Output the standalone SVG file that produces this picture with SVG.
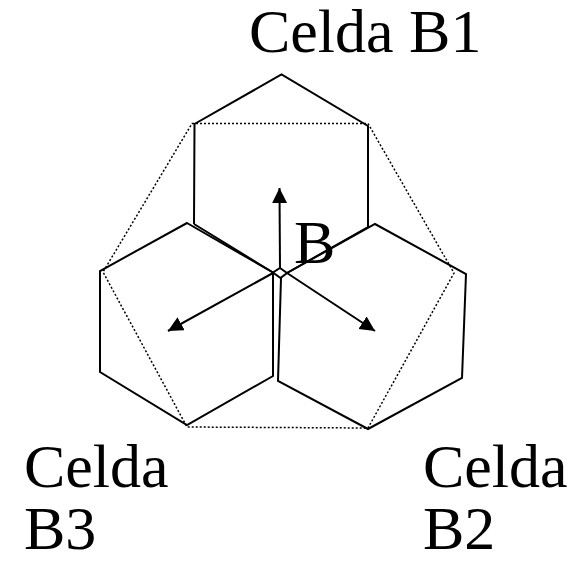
<svg xmlns="http://www.w3.org/2000/svg" width="582" height="566" viewBox="0 0 582 566">
<style>
.hex{fill:none;stroke:#000;stroke-width:2;stroke-linejoin:miter}
.dot{fill:none;stroke:#000;stroke-width:1.5;stroke-dasharray:2 2}
.arr{fill:none;stroke:#000;stroke-width:2;marker-end:url(#ah)}
.lbl{font-family:"Liberation Serif","Times New Roman",serif;font-size:62px;fill:#000}
</style>
<defs>
<marker id="ah" markerUnits="userSpaceOnUse" markerWidth="16" markerHeight="16" refX="15" refY="7.5" orient="auto">
<path d="M0,0 L15,7.5 L0,15 z" fill="#000"/>
</marker>
</defs>
<rect width="582" height="566" fill="#fff"/>
<g id="outline">
<polygon class="dot" points="192,123.5 368,123.5 454,273 368,428 187,427 103,272"/>
</g>
<g id="cell-b1">
<polyline class="hex" points="194,224 194.5,124 281.5,74.5 368,126 368,227 287,273"/>
<polyline class="hex" points="194,224 273,272.5"/>
<text class="lbl" x="249" y="52">Celda B1</text>
</g>
<g id="cell-b3">
<polygon class="hex" points="187,223 273,272.5 273,376 187,425 100,372 100,271"/>
<text class="lbl" x="24" y="487">Celda</text>
<text class="lbl" x="24" y="549">B3</text>
</g>
<g id="cell-b2">
<polyline class="hex" points="287,273 375,224 466,274 462,378 368,429 278,381 281,278"/>
<text class="lbl" x="423" y="487">Celda</text>
<text class="lbl" x="423" y="549">B2</text>
</g>
<g id="center">
<polygon class="hex" points="280,268 287,273 280.5,278 273,272.5"/>
<text class="lbl" x="294" y="263">B</text>
</g>
<g id="connectors">
<line class="arr" x1="280" y1="268" x2="279.5" y2="188"/>
<line class="arr" x1="273" y1="273" x2="168" y2="331"/>
<line class="arr" x1="287" y1="273" x2="375" y2="331"/>
</g>
</svg>
